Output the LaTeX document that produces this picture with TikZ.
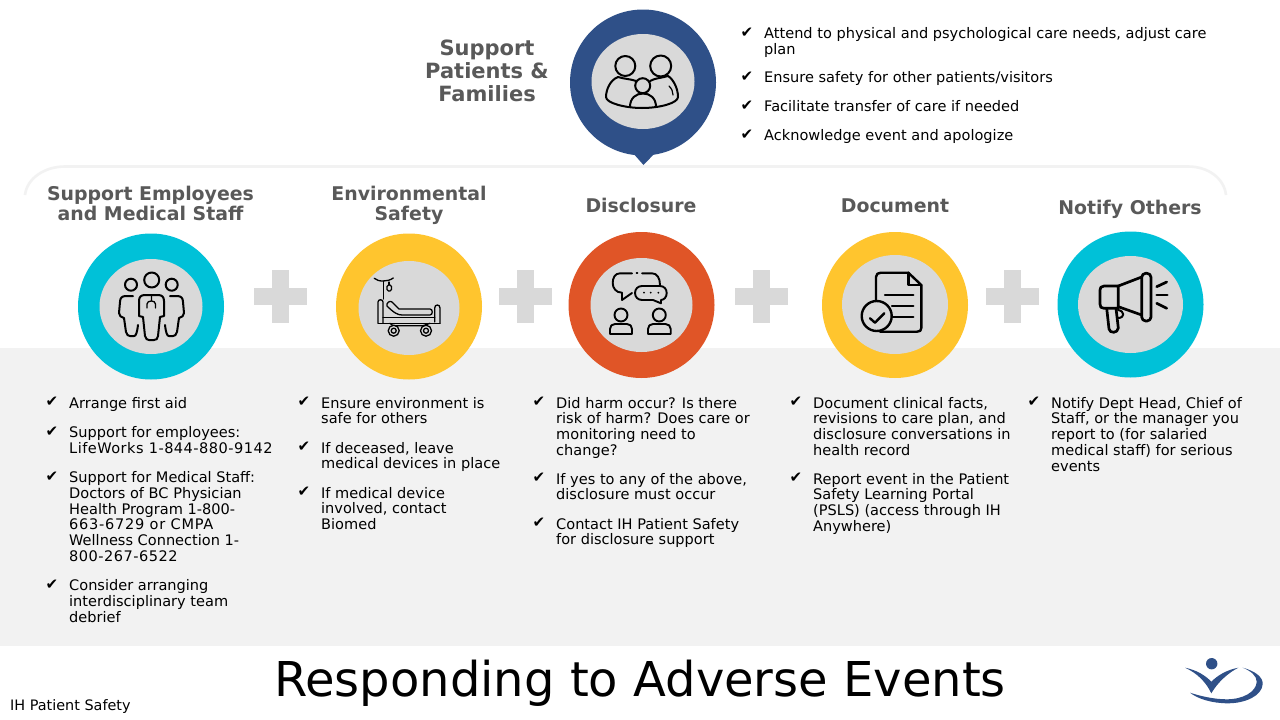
\documentclass[tikz,border=0pt]{standalone}
\usepackage{fontspec}
\setmainfont{DejaVu Sans}
\definecolor{band}{HTML}{F2F2F2}
\definecolor{disc}{HTML}{D9D9D9}
\definecolor{navy}{HTML}{2F5088}
\definecolor{teal}{HTML}{00C1D8}
\definecolor{amber}{HTML}{FFC52E}
\definecolor{rust}{HTML}{E05527}
\definecolor{headc}{HTML}{595959}
\newcommand{\wide}[2]{{\addfontfeatures{LetterSpace=#1}#2}}
\tikzset{
  x=1pt,y=-1pt,
  heading/.style={font=\fontsize{18.9}{20}\selectfont\bfseries,text=headc,align=center,inner sep=0pt},
  body/.style={font=\fontsize{14.55}{15.7}\selectfont,align=left,anchor=north west,inner sep=0pt,text=black},
  tick/.style={font=\fontsize{15}{15}\selectfont,anchor=north west,inner sep=0pt,text=black},
  ring/.style={circle,minimum size=146pt,inner sep=0pt,draw=none},
  hub/.style={ellipse,fill=disc,draw=none},
  ico/.style={draw=black,line width=1.7pt,line cap=round,line join=round},
  plusmark/.style={fill=disc,draw=none},
}
\usetikzlibrary{shapes.geometric}
\newcommand{\bitem}[4]{%
  \node[tick] (#1t) at (#2-23.5,#3) {✔};
  \node[body] (#1) at (#2,#3) {#4};}
\newcommand{\plusat}[2]{%
  \fill[plusmark] (#1-9,#2-26.5) rectangle (#1+8,#2+26.5);
  \fill[plusmark] (#1-26.5,#2-8.5) rectangle (#1+26.5,#2+8.5);}
\newcommand{\hubat}[7]{% name x y color rx ry dy
  \node[ring,fill=#4] (#1) at (#2,#3) {};
  \node[hub,minimum width=#5*2pt,minimum height=#6*2pt,inner sep=0pt] (#1h) at (#2,#3+#7) {};}
\begin{document}
\begin{tikzpicture}
\useasboundingbox (0,0) rectangle (1280,720);
\fill[white] (0,0) rectangle (1280,720);
\fill[band] (0,348) rectangle (1280,646);
\draw[band,line width=2.6pt] (25,195) .. controls (27,178) and (45,166.5) .. (65,166.5) -- (1188,166.5) .. controls (1208,166.5) and (1224,178) .. (1226,195);

% pluses
\plusat{280.5}{296.5}
\plusat{525.5}{296.5}
\plusat{761.5}{296.5}
\plusat{1012.5}{296.5}

% top marker
\fill[navy] (632,152) -- (643.5,165) -- (656,152) -- cycle;
\hubat{top}{643}{82.5}{navy}{51.5}{47.5}{-1}
\hubat{staff}{151}{306.5}{teal}{51.5}{47.5}{0}
\hubat{env}{409}{306.5}{amber}{50.5}{47}{1.5}
\hubat{talk}{641.5}{305}{rust}{51}{47}{0}
\hubat{doc}{895}{305}{amber}{53}{49.5}{-0.5}
\hubat{horn}{1130.5}{304.5}{teal}{52.5}{48.5}{0}

% family icon
\begin{scope}[ico,line width=2pt]
\draw (625.3,66) circle (10);
\draw (660.7,66) circle (10.5);
\draw (642.7,85.7) circle (7.5);
\draw (618,77) .. controls (610,80) and (606,90) .. (606,97) .. controls (606,103) and (625,108) .. (642,108) .. controls (660,108) and (678,103) .. (678,97) .. controls (678,88) and (673,79) .. (668,76);
\draw (618,77) .. controls (624,79) and (631,79) .. (636,81);
\draw (650,81) .. controls (655,78) and (662,78) .. (668,76);
\draw (630,107) .. controls (630,98) and (636,93.5) .. (643,93.5) .. controls (650,93.5) and (656,98) .. (656,107);
\draw[line width=1.2pt] (669,86) .. controls (672,89) and (673,92) .. (673,95);
\end{scope}

% staff icon
\begin{scope}[ico,line width=2pt]
\draw (151.7,280) circle (7.5);
\draw (131,284.7) circle (6);
\draw (171.7,284.7) circle (6);
\draw (145,295) -- (158,295) .. controls (162,295) and (164,297) .. (164,301) -- (164,316) -- (160,317) -- (158,336) .. controls (158,339) and (156,340) .. (154,340) -- (149,340) .. controls (147,340) and (146,339) .. (145,336) -- (143,317) -- (139,316) -- (139,301) .. controls (139,297) and (141,295) .. (145,295) -- cycle;
\draw[line width=1.3pt] (151.5,296) -- (151.5,301) (147,308) -- (147,304) .. controls (147,300) and (155.5,300) .. (155.5,304) -- (155.5,308);
\draw (133,296) -- (126,296) .. controls (122,296) and (120,298) .. (120,302) -- (119,313) .. controls (119,316) and (121,317) .. (124,318) -- (126,332) .. controls (127,335) and (128,336) .. (130,336) -- (134,336) .. controls (136,336) and (137,333) .. (138,325);
\draw (170,296) -- (177,296) .. controls (181,296) and (183,298) .. (183,302) -- (184,313) .. controls (184,316) and (182,317) .. (179,318) -- (177,332) .. controls (176,335) and (175,336) .. (173,336) -- (169,336) .. controls (167,336) and (166,333) .. (165,325);
\end{scope}

% bed icon
\begin{scope}[ico,line width=1.3pt]
\draw (383.3,281) -- (383.3,299);
\draw (374.3,278.3) .. controls (378,282) and (388,282) .. (393.3,278);
\draw (389,282) -- (389,285);
\draw[rounded corners=1.5pt] (387,285) rectangle (391.5,291);
\draw (378,322.7) -- (378,302) .. controls (378,299) and (383,299) .. (383,302) -- (383,322.7);
\draw (434.7,322) -- (434.7,308) .. controls (434.7,304) and (440,304) .. (440,308) -- (440,323.3);
\draw (387,306) .. controls (386,303) and (390,300) .. (392,302) -- (399,309) -- (430,309) .. controls (433,309) and (433,315) .. (430,315) -- (402,315) .. controls (398,315) and (394,313) .. (387,306) -- cycle;
\draw (383,317.7) -- (434.7,317.7);
\draw (378,323.3) -- (440,323.3);
\draw (390,323.3) -- (393,325.7) -- (423,325.7) -- (430,323.3);
\draw[fill=disc] (393.7,330.7) circle (5.5);
\draw (393.7,330.7) circle (2.5);
\draw[fill=disc] (426,330.7) circle (5.5);
\draw (426,330.7) circle (2.5);
\end{scope}

% talk icon
\begin{scope}[ico,line width=1.9pt]
\draw (632,273.3) -- (620,273.3) .. controls (615,273.3) and (612.7,278) .. (612.7,283) .. controls (612.7,288) and (616,292.7) .. (622,292.7) -- (622,300) -- (632,293);
\draw (636.5,273.3) -- (637.5,273.3);
\draw (642,273.3) -- (652,273.3) .. controls (657,273.3) and (660,278) .. (660,285);
\draw (642,286) -- (660,286) .. controls (664,286) and (666.7,289) .. (666.7,293) .. controls (666.7,297) and (664,300) .. (661,300) -- (661,303.3) -- (653,300) -- (642,300) .. controls (638,300) and (635,297) .. (635,293) .. controls (635,289) and (638,286) .. (642,286) -- cycle;
\fill (644,292.7) circle (1) (650.7,292.7) circle (1) (658.3,292.7) circle (1);
\draw (621,315) circle (6.5);
\draw (659.3,315) circle (6.5);
\draw (610,334) -- (610,329) .. controls (610,326) and (612,324) .. (615,324) -- (627,324) .. controls (630,324) and (632,326) .. (632,329) -- (632,334) -- cycle;
\draw (648,334) -- (648,329) .. controls (648,326) and (650,324) .. (653,324) -- (665.5,324) .. controls (668.5,324) and (670.7,326) .. (670.7,329) -- (670.7,334) -- cycle;
\end{scope}

% document icon
\begin{scope}[ico,line width=2.4pt]
\draw (876,301) -- (876,277) .. controls (876,274) and (878,272.7) .. (881,272.7) -- (908.3,272.7) -- (921.3,285) -- (921.3,328) .. controls (921.3,330.5) and (920,331.7) .. (917,331.7) -- (880,331.7);
\draw (908.3,272.7) -- (908.3,285) -- (921.3,285);
\draw (885,295) -- (913.3,295);
\draw (892,306) -- (913.3,306);
\draw (893,317) -- (913.3,317);
\draw[fill=disc] (876.7,316) circle (15);
\draw (870,318.3) -- (875,322.7) -- (884.3,313.3);
\end{scope}

% megaphone icon
\begin{scope}[ico,line width=2.7pt]
\draw (1118.3,286) -- (1104,286) .. controls (1101,286) and (1100,288) .. (1100,290) -- (1100,304) .. controls (1100,307) and (1101,308.3) .. (1104,308.3) -- (1118.3,308.3) -- cycle;
\draw (1118.3,286) -- (1141.7,277);
\draw (1118.3,306.7) -- (1141.7,315);
\draw[rounded corners=4pt] (1141.7,273.3) rectangle (1151,321);
\draw (1106.7,308.3) -- (1109,329) .. controls (1109.5,333.5) and (1118,333.5) .. (1118.3,328) -- (1116,308.3);
\draw[line width=2pt] (1118,310) .. controls (1125,311) and (1125,318) .. (1118,318);
\draw (1156.7,286.7) -- (1166.7,282);
\draw (1156.7,295) -- (1167.3,295);
\draw (1156.7,303.3) -- (1166.7,308.3);
\end{scope}

% logo
\fill[navy] (1211.7,663.7) circle (5.7);
\fill[navy] (1185,667.7) .. controls (1197,670) and (1206,676) .. (1211.3,681.7) .. controls (1217,676) and (1226,670) .. (1238.3,667.7) .. controls (1228,673) and (1218,682) .. (1211.3,693.3) .. controls (1206,682) and (1197,673) .. (1185,667.7) -- cycle;
\fill[navy] (1242.7,667.7) .. controls (1255,671) and (1263,677) .. (1262.7,684) .. controls (1262,696) and (1245,703.3) .. (1228,703.3) .. controls (1212,703.3) and (1198,699) .. (1190,692.7) .. controls (1200,696) and (1214,699.3) .. (1226.7,699.3) .. controls (1243,699.3) and (1256,692) .. (1256.7,682) .. controls (1257,676) and (1251,671) .. (1242.7,667.7) -- cycle;

% headings
\node[heading,font=\fontsize{21}{23}\selectfont\bfseries] (h0) at (487,70.5) {Support\\Patients \&\\Families};
\node[heading] (h1) at (150.5,203) {Support Employees\\and Medical Staff};
\node[heading] (h2) at (409,205) {Environmental\\Safety};
\node[heading] (h3) at (641,205) {Disclosure};
\node[heading] (h4) at (895,206) {Document};
\node[heading] (h5) at (1130,209) {Notify Others};

% top list
\bitem{a1}{764}{27.5}{Attend to physical and psychological care needs, adjust care\\plan}
\bitem{a2}{764}{71.5}{Ensure safety for other patients/visitors}
\bitem{a3}{764}{100.5}{Facilitate transfer of care if needed}
\bitem{a4}{764}{129.5}{Acknowledge event and apologize}

% column 1
\bitem{b1}{69}{397}{Arrange first aid}
\bitem{b2}{69}{426.5}{Support for employees:\\\wide{3.3}{LifeWorks 1-844-880-9142}}
\bitem{b3}{69}{471.5}{Support for Medical Staff:\\Doctors of BC Physician\\Health Program 1-800-\\\wide{5}{663-6729 or CMPA}\\Wellness Connection 1-\\\wide{3.3}{800-267-6522}}
\bitem{b4}{69}{579.5}{Consider arranging\\interdisciplinary team\\debrief}

% column 2
\bitem{c1}{321}{397}{Ensure environment is\\safe for others}
\bitem{c2}{321}{442}{If deceased, leave\\medical devices in place}
\bitem{c3}{321}{487}{If medical device\\involved, contact\\Biomed}

% column 3
\bitem{d1}{556}{397}{Did harm occur? Is there\\risk of harm? Does care or\\monitoring need to\\change?}
\bitem{d2}{556}{473}{If yes to any of the above,\\disclosure must occur}
\bitem{d3}{556}{518}{Contact IH Patient Safety\\for disclosure support}

% column 4
\bitem{e1}{813}{397}{Document clinical facts,\\revisions to care plan, and\\disclosure conversations in\\health record}
\bitem{e2}{813}{473}{Report event in the Patient\\Safety Learning Portal\\(PSLS) (access through IH\\Anywhere)}

% column 5
\bitem{f1}{1051}{397}{Notify Dept Head, Chief of\\Staff, or the manager you\\report to (for salaried\\medical staff) for serious\\events}

% footer
\node[inner sep=0pt,font=\fontsize{48}{50}\selectfont,text=black] (title) at (640,683) {Responding to Adverse Events};
\node[inner sep=0pt,anchor=west,font=\fontsize{14.4}{15}\selectfont,text=black] (foot) at (10,707) {IH Patient Safety};
\end{tikzpicture}
\end{document}
